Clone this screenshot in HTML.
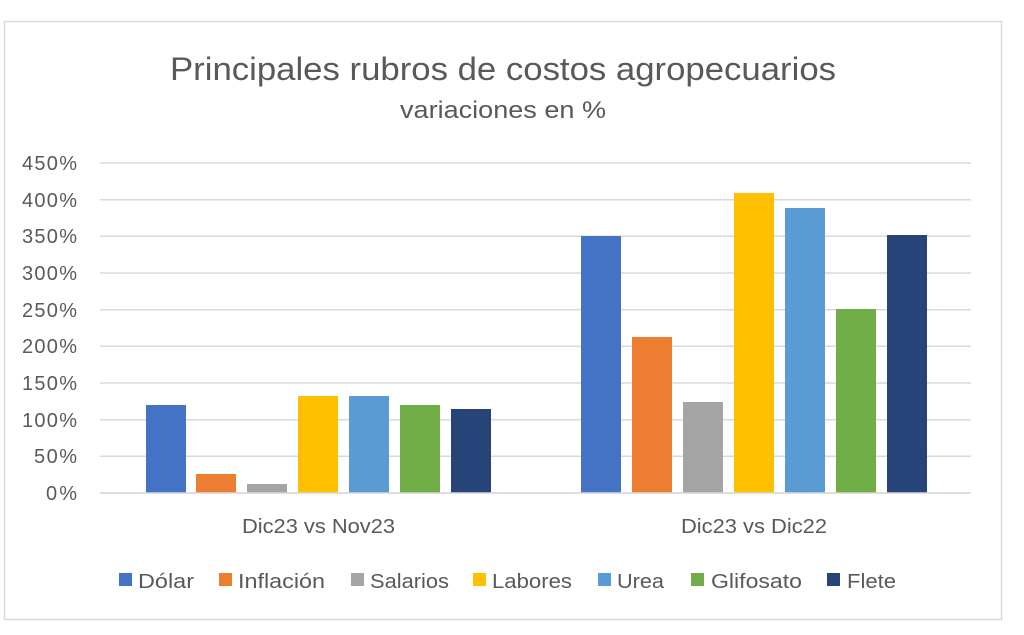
<!DOCTYPE html>
<html><head><meta charset="utf-8"><style>
html,body{margin:0;padding:0;background:#fff;}
svg{display:block;font-family:"Liberation Sans",sans-serif;}
</style></head><body>
<svg width="1024" height="635" viewBox="0 0 1024 635" xmlns="http://www.w3.org/2000/svg">
<rect x="0" y="0" width="1024" height="635" fill="#fff"/>
<rect x="4.5" y="21.5" width="997" height="598" fill="#fff" stroke="#d9d9d9" stroke-width="1.5"/>
<text x="170" y="80" font-size="32" fill="#595959" textLength="666" lengthAdjust="spacingAndGlyphs">Principales rubros de costos agropecuarios</text>
<text x="400" y="118" font-size="24" fill="#595959" textLength="206" lengthAdjust="spacingAndGlyphs">variaciones en %</text>
<g stroke="#d9d9d9" stroke-width="1.5">
<line x1="100" y1="163" x2="971" y2="163"/>
<line x1="100" y1="199.7" x2="971" y2="199.7"/>
<line x1="100" y1="236.3" x2="971" y2="236.3"/>
<line x1="100" y1="273" x2="971" y2="273"/>
<line x1="100" y1="309.7" x2="971" y2="309.7"/>
<line x1="100" y1="346.3" x2="971" y2="346.3"/>
<line x1="100" y1="383" x2="971" y2="383"/>
<line x1="100" y1="419.7" x2="971" y2="419.7"/>
<line x1="100" y1="456.3" x2="971" y2="456.3"/>
<line x1="100" y1="493" x2="971" y2="493"/>
</g>
<g font-size="20" fill="#595959" text-anchor="end" lengthAdjust="spacingAndGlyphs">
<text x="77" y="170" textLength="55">450%</text>
<text x="77" y="207" textLength="55">400%</text>
<text x="77" y="243" textLength="55">350%</text>
<text x="77" y="280" textLength="55">300%</text>
<text x="77" y="317" textLength="55">250%</text>
<text x="77" y="353" textLength="55">200%</text>
<text x="77" y="390" textLength="55">150%</text>
<text x="77" y="427" textLength="55">100%</text>
<text x="77" y="463" textLength="43">50%</text>
<text x="77" y="500" textLength="31">0%</text>
</g>
<g>
<rect x="146" y="405" width="40" height="88" fill="#4472c4"/>
<rect x="196" y="474" width="40" height="19" fill="#ed7d31"/>
<rect x="247" y="484" width="40" height="9" fill="#a5a5a5"/>
<rect x="298" y="396" width="40" height="97" fill="#ffc000"/>
<rect x="349" y="396" width="40" height="97" fill="#5b9bd5"/>
<rect x="400" y="405" width="40" height="88" fill="#70ad47"/>
<rect x="451" y="409" width="40" height="84" fill="#264478"/>
<rect x="581" y="236" width="40" height="257" fill="#4472c4"/>
<rect x="632" y="337" width="40" height="156" fill="#ed7d31"/>
<rect x="683" y="402" width="40" height="91" fill="#a5a5a5"/>
<rect x="734" y="193" width="40" height="300" fill="#ffc000"/>
<rect x="785" y="208" width="40" height="285" fill="#5b9bd5"/>
<rect x="836" y="309" width="40" height="184" fill="#70ad47"/>
<rect x="887" y="235" width="40" height="258" fill="#264478"/>
</g>
<line x1="100" y1="493" x2="971" y2="493" stroke="#d9d9d9" stroke-width="1.5"/>
<g font-size="20" fill="#595959">
<text x="242" y="533" textLength="153" lengthAdjust="spacingAndGlyphs">Dic23 vs Nov23</text>
<text x="681" y="533" textLength="146" lengthAdjust="spacingAndGlyphs">Dic23 vs Dic22</text>
</g>
<g font-size="20" fill="#595959">
<rect x="119" y="573" width="13" height="13" fill="#4472c4"/><text x="138" y="588" textLength="56" lengthAdjust="spacingAndGlyphs">Dólar</text>
<rect x="219" y="573" width="13" height="13" fill="#ed7d31"/><text x="238" y="588" textLength="87" lengthAdjust="spacingAndGlyphs">Inflación</text>
<rect x="351" y="573" width="13" height="13" fill="#a5a5a5"/><text x="370" y="588" textLength="79" lengthAdjust="spacingAndGlyphs">Salarios</text>
<rect x="473" y="573" width="13" height="13" fill="#ffc000"/><text x="492" y="588" textLength="80" lengthAdjust="spacingAndGlyphs">Labores</text>
<rect x="598" y="573" width="13" height="13" fill="#5b9bd5"/><text x="617" y="588" textLength="47" lengthAdjust="spacingAndGlyphs">Urea</text>
<rect x="691" y="573" width="13" height="13" fill="#70ad47"/><text x="711" y="588" textLength="91" lengthAdjust="spacingAndGlyphs">Glifosato</text>
<rect x="827" y="573" width="13" height="13" fill="#264478"/><text x="847" y="588" textLength="49" lengthAdjust="spacingAndGlyphs">Flete</text>
</g>
</svg>
</body></html>
